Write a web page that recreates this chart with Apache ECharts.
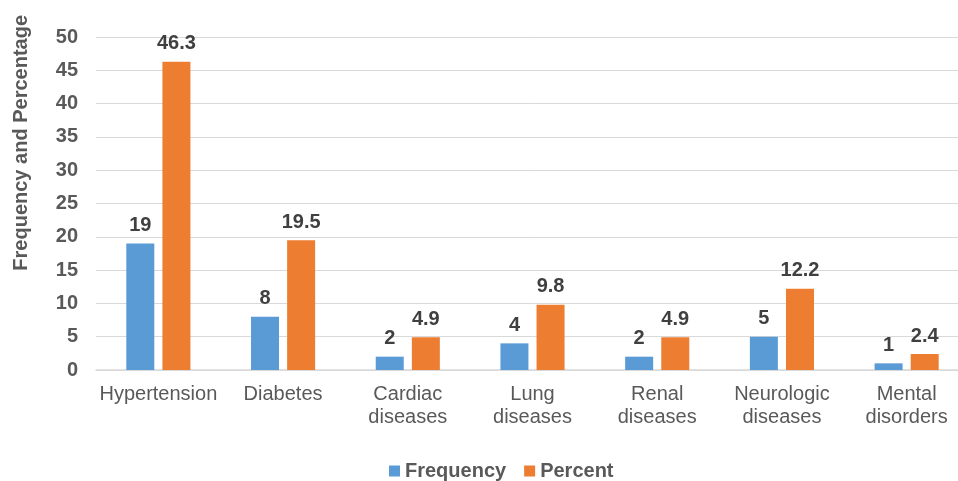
<!DOCTYPE html>
<html><head><meta charset="utf-8">
<script src="https://cdn.jsdelivr.net/npm/echarts@6/dist/echarts.min.js"></script>
<style>html,body{margin:0;padding:0;background:#fff;overflow:hidden;width:958px;height:481px}#c{width:969px;height:481px}</style>
</head><body><div id="c"></div>
<script>
const categories = ['Hypertension','Diabetes','Cardiac\ndiseases','Lung\ndiseases','Renal\ndiseases','Neurologic\ndiseases','Mental\ndisorders'];
const frequency = [19, 8, 2, 4, 2, 5, 1];
const percent = [46.3, 19.5, 4.9, 9.8, 4.9, 12.2, 2.4];
const yTicks = [0, 50, 5];

const chart = echarts.init(document.getElementById('c'));
const font = 'Arial, "Liberation Sans", sans-serif';
const lbl = {show:true, position:'top', distance:8, color:'#404040', fontWeight:'bold', fontSize:20, fontFamily:font};
chart.setOption({
  animation:false,
  grid:{left:96, top:37, right:0, height:333},
  legend:{bottom:-5, left:384, itemWidth:11, itemHeight:11, itemGap:18, icon:'rect',
    textStyle:{color:'#595959', fontSize:20, fontWeight:'bold', fontFamily:font}, data:['Frequency','Percent']},
  graphic:[{type:'text', left:11, top:15, rotation:Math.PI/2, style:{text:'Frequency and Percentage', fill:'#595959', font:'bold 20px ' + font}}],
  xAxis:{type:'category', data:categories,
    axisLine:{lineStyle:{color:'#d9d9d9', width:1.5}}, axisTick:{show:false},
    axisLabel:{color:'#595959', fontSize:20, fontFamily:font, lineHeight:23, margin:13, interval:0}},
  yAxis:{type:'value', min:yTicks[0], max:yTicks[1], interval:yTicks[2],
    axisLine:{show:false}, axisTick:{show:false},
    splitLine:{lineStyle:{color:'#d9d9d9', width:1}},
    axisLabel:{color:'#595959', fontSize:20, fontWeight:'bold', fontFamily:font, margin:18}},
  series:[
    {name:'Frequency', type:'bar', data:frequency, barWidth:28, barGap:'29%', itemStyle:{color:'#5B9BD5'}, label:lbl},
    {name:'Percent', type:'bar', data:percent, barWidth:28, barGap:'29%', itemStyle:{color:'#ED7D31'}, label:lbl}
  ]
});
</script></body></html>
